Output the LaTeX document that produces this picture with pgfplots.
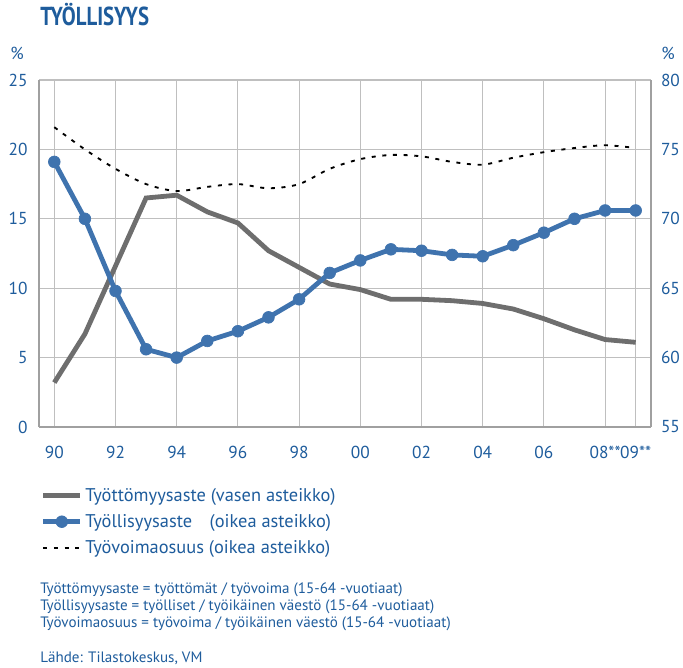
\documentclass[border=0pt]{standalone}
\usepackage{pgfplots}
\pgfplotsset{compat=1.18}
\usepackage{fontspec}
\setmainfont{PT Sans}
\definecolor{tblue}{HTML}{1E5C9C}
\definecolor{lblue}{HTML}{3F73AE}
\definecolor{lgray}{HTML}{6E6E6E}
\definecolor{grid}{HTML}{B4B4B4}
\definecolor{frame}{HTML}{A0A0A0}
\pgfplotstableread{
year un emp part
1990 3.2 74.1 76.6
1991 6.7 70.0 75.0
1992 11.6 64.8 73.6
1993 16.5 60.6 72.5
1994 16.7 60.0 72.0
1995 15.5 61.2 72.3
1996 14.7 61.9 72.5
1997 12.7 62.9 72.2
1998 11.5 64.2 72.5
1999 10.3 66.1 73.6
2000 9.9 67.0 74.3
2001 9.2 67.8 74.6
2002 9.2 67.7 74.5
2003 9.1 67.4 74.1
2004 8.9 67.3 73.9
2005 8.5 68.1 74.4
2006 7.8 69.0 74.8
2007 7.0 70.0 75.1
2008 6.3 70.6 75.3
2009 6.1 70.6 75.1
}\data
\begin{document}
\begin{tikzpicture}
\path[use as bounding box] (0,0) rectangle (512.25pt,501pt);
\pgfplotsset{
  common/.style={
    at={(29.25pt,180.75pt)}, anchor=south west,
    scale only axis, width=459pt, height=260.25pt,
    xmin=1989.5, xmax=2009.5,
    axis line style={frame, line width=0.8pt},
    tick label style={font=\fontsize{13}{14}\selectfont, text=tblue},
    /pgf/number format/assume math mode=true,
    yticklabel style={/pgf/number format/fixed},
  }
}
\begin{axis}[common,
  ymin=0, ymax=25, ytick={0,5,...,25},
  axis y line*=left, axis x line*=bottom,
  ymajorgrids, major grid style={grid, line width=0.8pt},
  xtick={1990,1992,...,2006,2008,2009},
  xticklabels={90,92,94,96,98,00,02,04,06,08**,09**},
  major x tick style={draw=none},
  xticklabel style={yshift=-11pt},
  extra x ticks={1990.5,1991.5,...,2008.5},
  extra x tick labels={},
  extra x tick style={tick style={draw=frame, line width=0.8pt}, major tick length=6pt, tick align=inside, xmajorgrids=false},
  ytick style={draw=none},
  yticklabel style={xshift=-5pt},
]
\addplot[lgray, line width=3.6pt, no marks] table[x=year,y=un]{\data};
\end{axis}
\begin{axis}[common,
  ymin=55, ymax=80, ytick={55,60,...,80},
  axis y line*=right, axis x line=none,
  ytick style={draw=none},
  yticklabel style={xshift=4pt},
  legend style={at={(-0.004,-0.16)}, anchor=north west, draw=none, fill=none,
    font=\fontsize{13.8}{15}\selectfont, text=tblue, row sep=4.2pt,
    /tikz/every even column/.append style={column sep=0pt}},
  legend cell align=left,
  legend image code/.code={\draw[mark repeat=2,mark phase=2,#1] plot coordinates {(0cm,0cm) (0.49cm,0cm) (0.98cm,0cm)};},
]
\addlegendimage{lgray, line width=3.6pt, no marks}
\addlegendentry{Työttömyysaste (vasen asteikko)}
\addplot[lblue, line width=3.6pt, mark=*, mark size=4.4pt, mark options={fill=lblue, draw=lblue, line width=0.5pt}] table[x=year,y=emp]{\data};
\addlegendentry{Työllisyysaste\hspace{0.95em}(oikea asteikko)}
\addplot[black, line width=1.4pt, dash pattern=on 3pt off 5pt, smooth, no marks] table[x=year,y=part]{\data};
\addlegendentry{Työvoimaosuus (oikea asteikko)}
\end{axis}
\node[anchor=base west, text=tblue, inner sep=0pt] at (30pt,481.5pt) {\scalebox{0.8}[1]{\fontsize{19.5}{21}\selectfont\bfseries TYÖLLISYYS}};
\node[text=tblue, inner sep=0pt] at (12.75pt,461pt) {\fontsize{13}{14}\selectfont\%};
\node[text=tblue, inner sep=0pt] at (501pt,461pt) {\fontsize{13}{14}\selectfont\%};
\begin{scope}[every node/.style={anchor=base west, text=tblue, inner sep=0pt, font=\fontsize{11.3}{12}\selectfont}]
\node at (30pt,55.5pt) {Työttömyysaste = työttömät / työvoima (15-64 -vuotiaat)};
\node at (30pt,42.75pt) {Työllisyysaste = työlliset / työikäinen väestö (15-64 -vuotiaat)};
\node at (30pt,30pt) {Työvoimaosuus = työvoima / työikäinen väestö (15-64 -vuotiaat)};
\node at (30pt,3.75pt) {Lähde: Tilastokeskus, VM};
\end{scope}
\end{tikzpicture}
\end{document}
